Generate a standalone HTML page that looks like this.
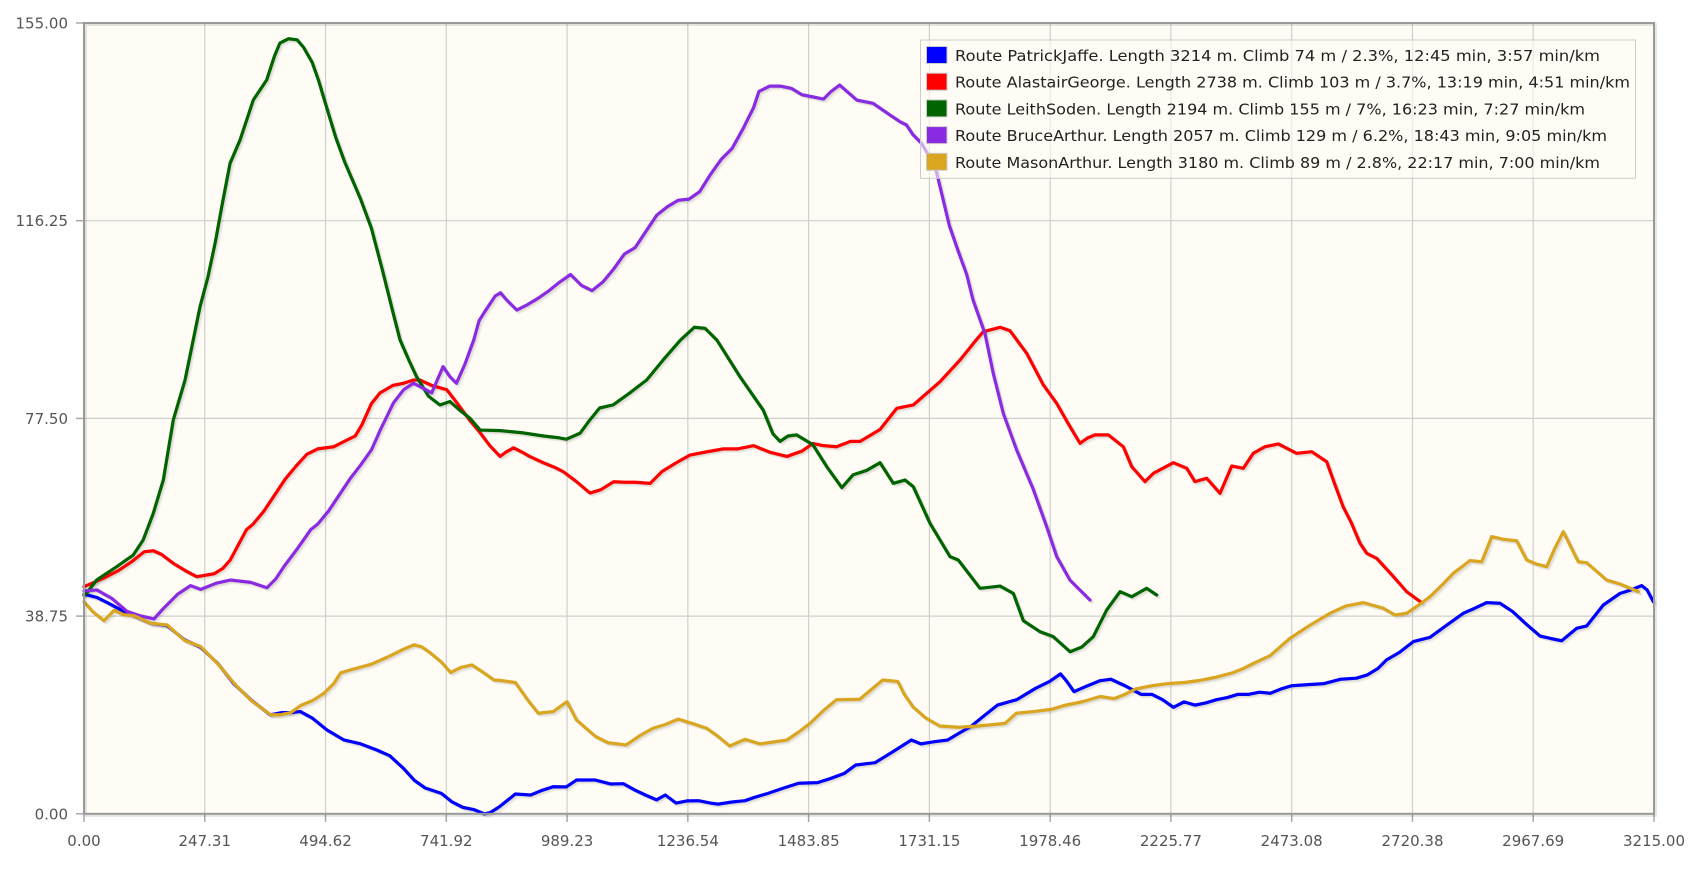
<!DOCTYPE html>
<html><head><meta charset="utf-8"><style>
html,body{margin:0;padding:0;background:#fff;}
svg{display:block;}
.ax{font-family:"DejaVu Sans","Liberation Sans",sans-serif;font-size:15px;fill:#555;}
.lg{font-family:"DejaVu Sans","Liberation Sans",sans-serif;font-size:15px;fill:#222;}
</style></head><body>
<svg width="1688" height="874" viewBox="0 0 1688 874" xmlns="http://www.w3.org/2000/svg">
<defs>
<polyline id="sb" fill="none" points="78,552 90,555 100,560 115,568 124,572 140,579 155,581 171,594 186,601 202,616 217,635 233,650 251,664 262,662 270,662 279,661 290,667 303.6,678 319.5,687.4 335,691 350,696.7 362,702 375,714 385,725 395,732 410,737 420,745 430,750 440,752 450,756 455,755 460,752 464.5,749 478.7,737.6 493,738.5 504,734 514,730.8 526,731 535.5,724.6 553,724.6 567.6,728.3 579,728 590,734 599.5,738.5 610,743 618,738.5 628,746 638,744 649,743.8 660,746 667,747 680,745 692,743.8 700,741 713.4,737 728,732 741.8,727.6 759.5,727 772,723 784.4,718.4 795,710.6 812.8,708.5 827,699.8 846.6,687.4 855.5,691 868,689 880.3,687.4 891,681 901.7,675 914,665 926.6,655 944.4,650 962,639.4 975,633 985.2,626 991,633 997.7,642.5 1008,638 1022,632.3 1032,631 1045,637 1060,645 1070,645 1080,650 1090,657 1100,652 1110,655 1120,653 1130,650 1140,648 1150,645 1160,645 1170,643 1180,644 1190,640 1200,637 1215,636 1230,635 1245,631 1260,630 1270,627 1280,621 1288,613 1300,606 1312.9,596 1328.4,592 1345,580 1359.3,569.7 1370,565 1381,559.8 1393.4,560.4 1405,568 1418,580 1430.6,590.8 1440,593 1450.7,595.2 1464.6,583.7 1473.9,581.5 1489.4,562 1504.9,551.2 1515,548 1525,544 1530,548 1535.8,558.9"/>
<polyline id="sr" fill="none" points="78,545 96,537.2 110,530 122,522 134,512.5 142.4,511.6 150,515 161,523.3 172,530 182.7,535.7 199,533 207,528 214,520 222,505 229,492 235,487 245,475 255,460 265,445 275,433 285,422 295,417 310,415 320,410 330,405 336,395 345,375 353,365 365,358 375,356 384,353 390,353 401,358 415,362 425,375 436,390 446,402 455,414 464.5,424 470,420 477,416 485,420 492,424 505,430 515,434 523,438 535,447 548,458 558,455 570,447.5 580,448 590,448 604,449 615,438 628,430 641,422.7 655,420 672,417 685,417 700,414 715,420 731,424 745,419 755,412 765,414 777,415 790,410 799,410 817.5,399 833,379.3 848.4,376.2 860.8,365.4 873.2,354.6 891.8,334.4 905,318 913.4,308.1 929,304 938.2,307.2 953.7,328.2 969.2,357.6 981.6,374.7 992,393 1003.2,411.8 1010,407 1017.2,404 1029.6,404 1043.5,415 1051.3,433.5 1063.6,447.4 1071.4,439.7 1090,429.8 1102.4,435 1110,447.4 1121,444.3 1133.3,458.3 1144.2,432.9 1155,435 1164.2,421.1 1175,415 1187.5,412.4 1204.5,421.1 1218.5,419.6 1232.4,428.9 1240,450 1247.8,471 1255,485 1263.4,504.7 1269.6,514 1278.8,518.6 1292,533 1306.7,549.6 1320.6,559.8"/>
<polyline id="sg" fill="none" points="78,553 80.5,551 89.8,538.8 100,532 108.4,526.4 123.8,515.6 133,501.6 142.4,476.8 151.7,445.9 161,390 171.9,353 185.8,284.9 193,258 200,225 206,192 213.7,151.7 223,130 235.3,92.9 247.7,74.3 255,52 260,40 268,36 276,37 282,44 290,58 296,75 305,105 312,128 320,150 335,185 345,212 355,250 365,290 371.6,315.8 380,335 387,350 398,368 408.7,376.2 418,373 427,381 436.6,388.6 446,399.5 465,400 485,402 505,405 518,406.5 526,408 538.8,402.5 548,390 557,379 569.7,376 585,365 600.7,353 616,334.4 632,316 645,304 655,305 666,316 687.4,350 709,381 718,403 724.6,410 732,405 740,404 755,413 768,433.5 782,453 792.6,441 805,437 817.5,429.8 829.8,449 840.7,445.9 848.4,452.1 863.9,486.1 882.5,517.1 890.2,520.2 900,533 910.3,546.5 929,544.4 941.3,551.2 950.6,576.6 966.1,586.8 978.4,591.4 994,605.4 1005,601 1015.6,591.4 1028,566.7 1040.4,549.6 1051.3,554.3 1065.2,546.5 1074.5,552.7"/>
<polyline id="sp" fill="none" points="78,549 90,548 104,556 118,568 130,572 143,575 152,565 165,552 177,544 186.4,547.5 201.4,541.6 214,538.8 233,541 248,546 256,538 264,526 276,510 288.6,492 295,487 305,475 315,460 325,445 335,432 345,418 353,400 365.4,374.4 375,362 384,356 392,360 401,365 411.6,340.6 418,350 424,356 432,338 440,316 445,298 450,290 460,275 465,272 470,278 480,288 490,283 500,277 510,270 520,262 530,255 540,265 550,270 560,262 570,250 580,236 590,230 600,215 610,200 620,192 630,186 640,185 650,178 660,162 670,148 680,138 690,120 700,100 705,85 715,80 725,80 735,82 745,88 755,90 765,92 772,85 780,79 796,93 811,96 827,107 836,113 842,116 848,125 856,133 864,147 870,160 876,185 882,210 890,233 898,255 904,279 915,310 922.7,347 932,384 944.4,418 960,455 972.3,489.3 981.6,517 994,539 1012.5,557.4"/>
<polyline id="sy" fill="none" points="78,559 86,568 96.6,576.6 106,567 115,571 124.5,572 140,579 155.4,580.6 171,594.5 186.4,600.7 201.9,616.2 217.4,634.8 232.9,650.3 251.4,664 260,664 270,662 280,655 290,651 301,644 310,635 316.5,625 330,621 345,617 363,609 375,603 384.6,599 392,601 400,606.7 410,615 418.6,624.8 428,620 438.5,617.7 448,624 459,631.7 464.5,632 478.7,634 490,650 500,662.6 514,661 526.7,651.8 535.5,668.8 553,684 565,690 581.6,692 595,683 606.6,676.5 618,673 630,668 643,672 656.5,676.5 667,684 677.8,693 692,686.8 706,691 731,687.4 742,680 752.4,672 765,660 777,650 798.6,649.6 810,640 820,631.7 834,633 840,645 848,656.5 860,667 873,674.4 891,675.6 908.6,674.4 933.6,672 944,662.6 960,661 976.5,659 990,655 1005,652 1022,647 1035,649 1045,645 1055,640 1070,637 1085,635 1100,634 1115,632 1130,629 1145,625 1155,621 1165,616 1180,609 1198.3,593 1215,582 1235.5,569.7 1250,563 1266.4,559.8 1285,565 1295.9,571.3 1306.7,569.7 1318,562 1328.4,554.3 1340,543 1350,532.6 1365.5,520.8 1376.4,521.8 1385.7,498.5 1396.5,501 1408.9,502.3 1418.2,520.2 1427.5,524 1436.8,526.4 1444,510 1452.2,493.9 1466.1,521.8 1473.9,522.7 1492.5,538.8 1504.9,542.5 1521.9,549.6"/>
</defs>

<rect x="84" y="23" width="1570" height="790.8" fill="#fefcf5"/>

<g stroke="#cfcfcf" stroke-width="1.2">
<line x1="84" y1="220.7" x2="1654" y2="220.7"/>
<line x1="84" y1="418.4" x2="1654" y2="418.4"/>
<line x1="84" y1="616.1" x2="1654" y2="616.1"/>
<line x1="204.77" y1="23" x2="204.77" y2="814"/>
<line x1="325.54" y1="23" x2="325.54" y2="814"/>
<line x1="446.31" y1="23" x2="446.31" y2="814"/>
<line x1="567.08" y1="23" x2="567.08" y2="814"/>
<line x1="687.85" y1="23" x2="687.85" y2="814"/>
<line x1="808.6" y1="23" x2="808.6" y2="814"/>
<line x1="929.4" y1="23" x2="929.4" y2="814"/>
<line x1="1050.2" y1="23" x2="1050.2" y2="814"/>
<line x1="1170.9" y1="23" x2="1170.9" y2="814"/>
<line x1="1291.7" y1="23" x2="1291.7" y2="814"/>
<line x1="1412.5" y1="23" x2="1412.5" y2="814"/>
<line x1="1533.2" y1="23" x2="1533.2" y2="814"/>
</g>

<g stroke="#a8a8a8" stroke-width="1.5">
<line x1="76" y1="23" x2="84" y2="23"/>
<line x1="76" y1="220.7" x2="84" y2="220.7"/>
<line x1="76" y1="418.4" x2="84" y2="418.4"/>
<line x1="76" y1="616.1" x2="84" y2="616.1"/>
<line x1="76" y1="813.8" x2="84" y2="813.8"/>
<line x1="84" y1="814" x2="84" y2="822"/>
<line x1="204.77" y1="814" x2="204.77" y2="822"/>
<line x1="325.54" y1="814" x2="325.54" y2="822"/>
<line x1="446.31" y1="814" x2="446.31" y2="822"/>
<line x1="567.08" y1="814" x2="567.08" y2="822"/>
<line x1="687.85" y1="814" x2="687.85" y2="822"/>
<line x1="808.6" y1="814" x2="808.6" y2="822"/>
<line x1="929.4" y1="814" x2="929.4" y2="822"/>
<line x1="1050.2" y1="814" x2="1050.2" y2="822"/>
<line x1="1170.9" y1="814" x2="1170.9" y2="822"/>
<line x1="1291.7" y1="814" x2="1291.7" y2="822"/>
<line x1="1412.5" y1="814" x2="1412.5" y2="822"/>
<line x1="1533.2" y1="814" x2="1533.2" y2="822"/>
<line x1="1654" y1="814" x2="1654" y2="822"/>
</g>

<g transform="scale(1.0765)" stroke-linejoin="round" stroke-linecap="round">
<g transform="translate(1.3,1.3)" stroke="rgba(0,0,0,0.08)" stroke-width="3">
<use href="#sb"/><use href="#sr"/><use href="#sg"/><use href="#sp"/><use href="#sy"/>
</g>
<g transform="translate(2.4,2.4)" stroke="rgba(0,0,0,0.05)" stroke-width="3">
<use href="#sb"/><use href="#sr"/><use href="#sg"/><use href="#sp"/><use href="#sy"/>
</g>
<use href="#sb" stroke="#0000ff" stroke-width="3"/>
<use href="#sr" stroke="#ff0000" stroke-width="3"/>
<use href="#sg" stroke="#006400" stroke-width="3"/>
<use href="#sp" stroke="#8a2be2" stroke-width="3"/>
<use href="#sy" stroke="#daa520" stroke-width="3"/>
</g>

<rect x="85.5" y="24.5" width="1570" height="790.8" fill="none" stroke="rgba(0,0,0,0.10)" stroke-width="3"/>
<rect x="84" y="23" width="1570" height="790.8" fill="none" stroke="#999" stroke-width="2"/>

<g class="ax" text-anchor="end">
<text x="68" y="28.5">155.00</text>
<text x="68" y="226.2">116.25</text>
<text x="68" y="423.9">77.50</text>
<text x="68" y="621.6">38.75</text>
<text x="68" y="819.3">0.00</text>
</g>
<g class="ax" text-anchor="middle">
<text x="84" y="846">0.00</text>
<text x="204.77" y="846">247.31</text>
<text x="325.54" y="846">494.62</text>
<text x="446.31" y="846">741.92</text>
<text x="567.08" y="846">989.23</text>
<text x="687.85" y="846">1236.54</text>
<text x="808.6" y="846">1483.85</text>
<text x="929.4" y="846">1731.15</text>
<text x="1050.2" y="846">1978.46</text>
<text x="1170.9" y="846">2225.77</text>
<text x="1291.7" y="846">2473.08</text>
<text x="1412.5" y="846">2720.38</text>
<text x="1533.2" y="846">2967.69</text>
<text x="1654" y="846">3215.00</text>
</g>

<rect x="920.5" y="40" width="715" height="138.3" fill="rgba(254,252,245,0.6)" stroke="#cccccc" stroke-width="1"/>
<g stroke="#cccccc" stroke-width="1">
<rect x="926.5" y="46.5" width="20.5" height="17" fill="#0000ff"/>
<rect x="926.5" y="73.2" width="20.5" height="17" fill="#ff0000"/>
<rect x="926.5" y="99.9" width="20.5" height="17" fill="#006400"/>
<rect x="926.5" y="126.6" width="20.5" height="17" fill="#8a2be2"/>
<rect x="926.5" y="153.3" width="20.5" height="17" fill="#daa520"/>
</g>
<g class="lg">
<text x="955" y="61" textLength="645" lengthAdjust="spacingAndGlyphs">Route PatrickJaffe. Length 3214 m. Climb 74 m / 2.3%, 12:45 min, 3:57 min/km</text>
<text x="955" y="87.7" textLength="675" lengthAdjust="spacingAndGlyphs">Route AlastairGeorge. Length 2738 m. Climb 103 m / 3.7%, 13:19 min, 4:51 min/km</text>
<text x="955" y="114.4" textLength="630" lengthAdjust="spacingAndGlyphs">Route LeithSoden. Length 2194 m. Climb 155 m / 7%, 16:23 min, 7:27 min/km</text>
<text x="955" y="141.1" textLength="652" lengthAdjust="spacingAndGlyphs">Route BruceArthur. Length 2057 m. Climb 129 m / 6.2%, 18:43 min, 9:05 min/km</text>
<text x="955" y="167.8" textLength="645" lengthAdjust="spacingAndGlyphs">Route MasonArthur. Length 3180 m. Climb 89 m / 2.8%, 22:17 min, 7:00 min/km</text>
</g>
</svg>
</body></html>
